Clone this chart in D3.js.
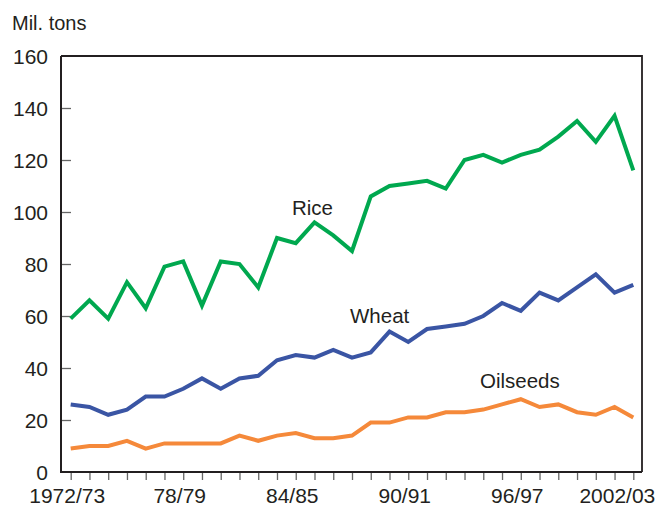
<!DOCTYPE html>
<html>
<head>
<meta charset="utf-8">
<script src="https://cdn.jsdelivr.net/npm/d3@7"></script>
<style>
    body { margin: 0; background: #fff; }
    svg { display: block; font-family: "Liberation Sans", Arial, sans-serif; }
    .line { fill: none; stroke-width: 4; stroke-linejoin: miter; }
</style>
</head>
<body>
<div id="chart"></div>
<script>
// Marketing years 1972/73 .. 2002/03
var years = d3.range(1972, 2003);
var tickYears = [1972, 1978, 1984, 1990, 1996, 2002];
var tickLabels = ["1972/73", "78/79", "84/85", "90/91", "96/97", "2002/03"];

var rice = [59, 66, 59, 73, 63, 79, 81, 64, 81, 80, 71, 90, 88, 96, 91, 85,
    106, 110, 111, 112, 109, 120, 122, 119, 122, 124, 129, 135, 127, 137, 116];
var wheat = [26, 25, 22, 24, 29, 29, 32, 36, 32, 36, 37, 43, 45, 44, 47, 44,
    46, 54, 50, 55, 56, 57, 60, 65, 62, 69, 66, 71, 76, 69, 72];
var oilseeds = [9, 10, 10, 12, 9, 11, 11, 11, 11, 14, 12, 14, 15, 13, 13, 14,
    19, 19, 21, 21, 23, 23, 24, 26, 28, 25, 26, 23, 22, 25, 21];

var width = 657, height = 506;
var margin = { top: 56, right: 15, bottom: 34, left: 61 };
var plotRight = width - margin.right;
var plotBottom = height - margin.bottom;

var svg = d3.select("#chart").append("svg")
    .attr("width", width)
    .attr("height", height);

var x = d3.scaleLinear()
    .domain([1972, 2002])
    .range([margin.left + 9.7, plotRight - 8.7]);
var y = d3.scaleLinear()
    .domain([0, 160])
    .range([plotBottom, margin.top]);

// frame (top and right)
svg.append("path")
    .attr("d", "M" + margin.left + "," + margin.top + "H" + plotRight + "V" + plotBottom)
    .attr("fill", "none")
    .attr("stroke", "#231f20")
    .attr("stroke-width", 1.8);

// y axis, ticks inside
var yAxis = svg.append("g")
    .attr("transform", "translate(" + margin.left + ",0)")
    .call(d3.axisRight(y).tickValues(d3.range(0, 161, 20)).tickSize(10).tickFormat(""));
yAxis.select(".domain").remove();
yAxis.selectAll(".tick line").attr("stroke", "#666").attr("stroke-width", 1.3)
    .filter(function (d) { return d == 0 || d == 160; }).remove();

svg.append("g").selectAll("text")
    .data(d3.range(0, 161, 20))
    .enter().append("text")
    .attr("x", 48)
    .attr("y", function (d) { return y(d); })
    .attr("dy", "0.36em")
    .attr("text-anchor", "end")
    .attr("font-size", 21)
    .attr("fill", "#231f20")
    .text(function (d) { return d; });

// x axis, ticks every year
var xAxis = svg.append("g")
    .attr("transform", "translate(0," + plotBottom + ")")
    .call(d3.axisBottom(x).tickValues(years).tickSize(8).tickFormat(""));
xAxis.select(".domain").remove();
xAxis.selectAll(".tick line").attr("stroke", "#666").attr("stroke-width", 1.3);

svg.append("g").selectAll("text")
    .data(tickYears)
    .enter().append("text")
    .attr("x", function (d, i) { return i == tickYears.length - 1 ? x(d) + 22 : x(d) - 3.5; })
    .attr("y", plotBottom + 31)
    .attr("text-anchor", function (d, i) { return i == tickYears.length - 1 ? "end" : "middle"; })
    .attr("font-size", 21)
    .attr("fill", "#231f20")
    .text(function (d, i) { return tickLabels[i]; });

// left and bottom axis lines
svg.append("path")
    .attr("d", "M" + margin.left + "," + margin.top + "V" + plotBottom + "H" + plotRight)
    .attr("fill", "none")
    .attr("stroke", "#231f20")
    .attr("stroke-width", 2);

svg.append("text")
    .attr("x", 12)
    .attr("y", 30)
    .attr("font-size", 20)
    .attr("fill", "#231f20")
    .text("Mil. tons");

var line = d3.line()
    .x(function (d, i) { return x(years[i]); })
    .y(function (d) { return y(d); });

var series = [
    { name: "Rice", values: rice, color: "#00a84f", lx: 292, ly: 215 },
    { name: "Wheat", values: wheat, color: "#3a55a4", lx: 350, ly: 323 },
    { name: "Oilseeds", values: oilseeds, color: "#f5893a", lx: 480, ly: 388 }
];

svg.selectAll("path.line")
    .data(series)
    .enter().append("path")
    .attr("class", "line")
    .attr("stroke", function (d) { return d.color; })
    .attr("d", function (d) { return line(d.values); });

svg.selectAll("text.label")
    .data(series)
    .enter().append("text")
    .attr("class", "label")
    .attr("x", function (d) { return d.lx; })
    .attr("y", function (d) { return d.ly; })
    .attr("font-size", 20.5)
    .attr("fill", "#231f20")
    .text(function (d) { return d.name; });
</script>
</body>
</html>
